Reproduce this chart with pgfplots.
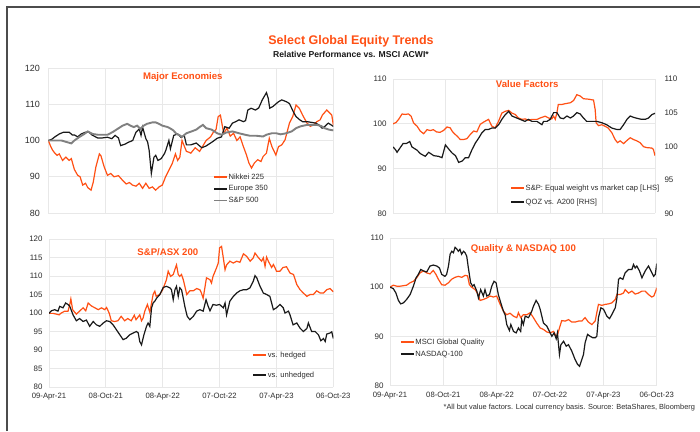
\documentclass[border=0pt]{standalone}
\usepackage{pgfplots}
\pgfplotsset{compat=1.18}
\usepackage{fontspec}
\setmainfont{Liberation Sans}
\definecolor{bsorange}{RGB}{255,80,20}
\definecolor{bsblack}{RGB}{25,25,25}
\definecolor{bsgray}{RGB}{128,128,128}
\definecolor{gridc}{RGB}{232,232,232}
\definecolor{tickc}{RGB}{45,45,45}
\pgfplotsset{
  panel/.style={scale only axis, anchor=south west,
    axis line style={draw=none}, xmin=0, xmax=130,
    xtick={0,26,52,78,104,130},
    grid=major, major grid style={gridc, line width=0.9pt},
    tick style={draw=none},
    ticklabel style={text=tickc},
    yticklabel style={font=\fontsize{9}{10}\selectfont, xshift=-3pt},
    xticklabel style={font=\fontsize{7.7}{9}\selectfont, yshift=-3pt},
    /pgf/number format/assume math mode=true,
    legend cell align=left,
    legend image code/.code={\draw[##1, line width=1.8pt] (0pt,0pt) -- (13pt,0pt);},
  },
  leg/.style={legend style={draw=none, fill=none, inner sep=0pt,
    font=\fontsize{7.6}{9}\selectfont, text=tickc,
    nodes={inner sep=0.6pt, text height=5.8pt, text depth=1.6pt}, row sep=#1}},
  lo/.style={color=bsorange, line width=1.2pt},
  lb/.style={color=bsblack, line width=1.2pt},
  lg/.style={color=bsgray, line width=1.9pt},
}
\begin{document}
\begin{tikzpicture}[x=1pt,y=1pt]
\useasboundingbox (0,0) rectangle (700,431);
\fill[white] (0,0) rectangle (700,431);
\draw[line width=1.8pt, color=black!70] (7.3,0) -- (7.3,424.3) -- (700,424.3);

\node[font=\fontsize{12.5}{14}\bfseries, text=bsorange] at (351,389.3) {Select Global Equity Trends};
\node[font=\fontsize{8.6}{10}\bfseries, text=bsblack] at (351,376.8) {Relative Performance vs. MSCI ACWI*};
\node[font=\fontsize{7.4}{9}\selectfont, text=tickc, anchor=east] at (698.5,23) {*All but value factors.  Local currency  basis.  Source:  BetaShares, Bloomberg};

% ---------- Panel 1 ----------
\begin{axis}[panel, at={(48.3pt,218pt)}, width=285pt, height=145pt,
  ymin=80, ymax=120, ytick={80,90,100,110,120}, xticklabels={},
  yticklabel style={xshift=-2pt},
  leg=3.1pt, legend style={at={(0.578,0.279)}, anchor=north west}]
\addplot[lo] coordinates {(0,100)(1,98.5)(2,97.3)(3,96.5)(4,95.9)(5,96.3)(6.5,94.5)(8,95.4)(9.5,94.5)(10.5,95)(11.9,92)(13.4,90.4)(14.5,90)(15.7,87.7)(17,88.2)(18,87)(19.5,86.3)(20.5,88.5)(21.7,92.7)(23.3,96.3)(24,95.8)(25.5,92.7)(27,90.4)(28.5,90.9)(30,90)(32,90.3)(33.9,89)(35.5,88)(37,88.4)(38.4,87.7)(40,87.4)(41.5,88.2)(43,86.8)(44.5,88.2)(46,86.8)(47.5,87.2)(49,86.3)(50.5,87.2)(52,87.7)(53.5,90)(55,91.8)(56.5,93.6)(58,96.3)(59,94.5)(60,95.4)(61,100)(62,98.5)(63,97)(64,96.8)(65,96.5)(67,98)(69,97)(70.5,98.5)(72,100)(74,101)(75.5,102.5)(76.5,103)(77.5,106.6)(78.5,107)(80,102)(81.5,103.4)(83,101.2)(84.5,102)(86,100)(87.5,101)(89,98.3)(90.4,96)(91.5,93.8)(92.7,92.4)(94,93.8)(95.5,94.7)(97,94.2)(98,95.6)(99.5,96.5)(100.8,100.6)(102,98.3)(103.8,96)(105,98.3)(106.5,98.8)(108,100.2)(109,102.5)(110,104.8)(111.5,106.6)(113,109.8)(114.5,108.9)(116,107)(118,104.8)(119.5,103.9)(121,104.3)(122.5,105.2)(124,105.7)(125,107)(127,108.4)(128.5,107.5)(129.3,107)(130,104.3)};
\addlegendentry{Nikkei 225}
\addplot[lb] coordinates {(0,100)(1.5,100.3)(3,101)(5,101.8)(7,102.3)(9.5,102.3)(11,101.5)(12,101.5)(13.4,101)(15,101.8)(17,102.3)(18.5,102.3)(20,101.5)(22.5,100.7)(24.5,100.7)(27,100.9)(29,100.5)(30.5,101.4)(32,100.7)(33,98.6)(35,99)(36.5,99.5)(38.5,100)(40,102.3)(41.5,103.2)(42.3,101.4)(43,103.7)(44.5,100.5)(45.3,99.6)(46,97.3)(47,90.9)(48.2,95.4)(49,95.9)(50,94.5)(51.5,95)(53,96.4)(53.6,97.3)(55,100)(55.7,97.7)(57.2,101.4)(59,101.8)(60.5,100.9)(62,101.4)(63,98.8)(65,98.8)(67.5,99.3)(70,98)(72,98.5)(75,99.7)(77,100.6)(79,101)(80.5,103.8)(82.5,103.4)(84,104.8)(85.5,105.2)(87,105.7)(89,105.2)(90,105.5)(91,108.4)(92.5,108.9)(94.5,108.4)(96,109)(97.6,111.2)(99.5,113.2)(100.3,111.7)(101,108.9)(102.5,109.4)(105,110.7)(106.5,111.2)(108.6,110.7)(110,110.2)(111.7,108)(113,106.6)(114.7,105.7)(116,105.2)(118,105.2)(120,105)(122,104.8)(123.4,104.3)(124.9,103.4)(126,103.8)(127.7,104.8)(129,104.3)(130,103.9)};
\addlegendentry{Europe 350}
\addplot[lg] coordinates {(0,100)(3,100)(6,100)(8.8,99.5)(10.5,99.2)(11.9,100)(14,100.9)(16.4,101.8)(18,102.5)(20.2,101.8)(22.5,101.6)(24.8,101.6)(27,101.6)(29.3,102.3)(31.6,103.2)(33.9,104.1)(36,104.6)(37.5,104.1)(39,103.7)(40.5,104.1)(42,103.2)(43.5,104.1)(45,104.6)(47.5,105)(49,105)(50.5,104.6)(52,104.1)(54.5,103.7)(56,103.2)(57,102.8)(58.5,101.8)(60,101.4)(61,101)(63,102)(65.3,102.5)(67.5,103)(69,103.7)(70.5,104.3)(72,103.4)(74.5,103)(77,102)(79,101.6)(81.2,102.2)(84,102.5)(87,102)(89.7,101.6)(92,101.3)(95,101.3)(98,101.1)(99.5,101.6)(102,102)(104,102)(106,101.7)(108.5,102)(111,102.5)(113,103.4)(115,103.9)(118,104.3)(120,104.3)(122.5,104.3)(124.5,104)(126,103.4)(128,103)(130,102.8)};
\addlegendentry{S\&P 500}
\node[font=\fontsize{9.6}{11}\bfseries, text=bsorange] at (axis description cs:0.472,0.935) {Major  Economies};
\end{axis}

% ---------- Panel 2 ----------
\begin{axis}[panel, at={(393pt,217.5pt)}, width=262pt, height=134.5pt,
  ymin=80, ymax=110, ytick={80,90,100,110}, xticklabels={},
  yticklabel style={font=\fontsize{8}{10}\selectfont}]
\addplot[lo] coordinates {(0,100)(1.5,100.3)(2.8,101)(4.5,102.2)(6,102.1)(7.7,102.2)(9,101.7)(10.2,100.2)(11.9,99.5)(13.5,98.4)(15.2,97.8)(16.9,98.7)(18.5,98.5)(20,98.7)(21.6,98.2)(23.3,98.1)(25,98.5)(26.8,99.3)(28.4,99.1)(29.3,98.4)(30,98)(31.7,97.3)(33.4,96.5)(35,96.5)(36.7,96.7)(38.3,97.6)(40,98.4)(41.6,98.2)(43.3,99.9)(45,100.4)(47.4,101)(49,99.5)(50.7,99.1)(52.4,100.6)(54,102.4)(55.7,102.8)(57.4,103)(59,102.4)(60.6,102.1)(62.3,101.3)(64,101)(65.6,101.1)(67.2,100.8)(69,101)(71.5,101)(73,101.3)(75.5,101.7)(77.2,101.3)(78.8,101.1)(79.7,101.7)(80.5,101)(81.3,102.4)(82,104.3)(83.7,104.3)(85.5,104.5)(88,104.7)(89.6,105.2)(91.2,106.5)(92.9,106.2)(94.5,105.6)(97,105.5)(99.5,105.3)(100.3,103.2)(100.8,100.2)(102,99.6)(103.6,99.8)(105,99.5)(106.7,99.1)(108.6,98)(110.2,96.5)(111.4,95.8)(112.7,96.2)(114.4,95.6)(116.1,96.3)(117.7,96.9)(119.3,96.5)(121,96.2)(122.6,95.8)(124.3,94.9)(125.9,94.7)(128.4,94.6)(129.2,94.3)(130,92.9)};
\node[font=\fontsize{9.6}{11}\bfseries, text=bsorange] at (axis description cs:0.512,0.965) {Value Factors};
\end{axis}
\begin{axis}[panel, at={(393pt,217.5pt)}, width=262pt, height=134.5pt,
  ymin=90, ymax=110, ytick={90,95,100,105,110}, xticklabels={}, grid=none,
  yticklabel pos=right, yticklabel style={font=\fontsize{8}{10}\selectfont, anchor=west, xshift=9pt},
  leg=5.4pt, legend style={at={(0.447,0.222)}, anchor=north west}]
\addlegendimage{lo}
\addlegendentry{S\&P: Equal weight vs market cap [LHS]}
\addplot[lb] coordinates {(0,99.9)(1.2,99.5)(2,99.1)(3.6,99.8)(5,100.4)(6.6,100.4)(8.3,100.7)(9.4,99.9)(12,99.4)(13.6,98.9)(16,98.5)(17.7,99.1)(20.2,98.6)(22.6,98.5)(24.3,98.3)(26,100.2)(27.6,99.6)(29.3,99)(31,98.6)(32.6,97.6)(34.3,97.8)(35.9,98.3)(37.5,98.3)(39.2,99.5)(40.9,100.5)(42.5,101.2)(44.1,102)(45.8,102.5)(47.4,102.5)(49,102.7)(50.7,102.7)(52.4,103.2)(54,104)(55.7,104.7)(57.4,105.2)(59,104.5)(60.6,104.3)(63,104)(65.5,103.7)(67.2,104)(68.9,103.7)(71.4,103.7)(73.9,103.2)(74.7,103.7)(76.4,103.7)(78,104)(79.7,105)(81.3,105)(83,104.2)(84.6,104.1)(86.3,104.5)(88,104.2)(89.6,104.5)(91.2,105)(92.9,104.8)(94.5,104.2)(96.1,103.7)(98.6,103.7)(101.1,103.7)(103.6,103.5)(106,103.2)(108.6,102.7)(111,102.5)(112.7,102.5)(114.4,103.2)(116.1,104)(117.7,104.5)(119.3,104.3)(121.8,104.1)(123.4,104)(125.1,104)(126.8,104.2)(128.4,104.7)(130,104.9)};
\addlegendentry{QOZ vs. A200 [RHS]}
\end{axis}

% ---------- Panel 3 ----------
\begin{axis}[panel, at={(49pt,44pt)}, width=284.3pt, height=148pt,
  ymin=80, ymax=120, ytick={80,85,...,120},
  xticklabels={09-Apr-21,08-Oct-21,08-Apr-22,07-Oct-22,07-Apr-23,06-Oct-23},
  yticklabel style={font=\fontsize{7.9}{9}\selectfont},
  leg=11.4pt, legend style={at={(0.715,0.245)}, anchor=north west}]
\addplot[lo] coordinates {(0,99.9)(1.8,99.9)(3.4,99.7)(4.6,99.5)(5.6,100)(7.2,100.5)(8.7,100.5)(9.5,102.3)(10,103.8)(10.8,100.9)(12.5,99.7)(14,100.5)(15.6,101.4)(16.8,100.6)(17.9,102.7)(19.4,101.9)(21,101.4)(22.5,100.9)(24,101.4)(25.5,100.9)(26.3,101.5)(27.5,100)(28.5,97.9)(30,97.7)(31.5,97.9)(33,99.1)(34.6,97.9)(36,98.5)(37.6,97.9)(39,99.4)(39.8,98.2)(41.5,99.5)(42.3,97.9)(43,98.6)(43.8,100.5)(45,102.3)(46.1,100.2)(47.6,105)(48.4,105.9)(49,104.5)(50.6,105)(52,106.3)(53.7,109)(54.5,111.3)(55.6,109.9)(56.8,110.4)(58.3,113)(59.1,110.4)(59.8,109.9)(60.6,110.4)(61.4,109)(63,105)(64.4,106)(66,106)(67.5,106.6)(69,106.3)(69.7,105.4)(70.5,104)(72,109.5)(73.6,109)(74.3,108.1)(75,109.9)(76.6,112.2)(77.4,113.5)(78,117.6)(78.9,118)(79.7,114.9)(80.5,111.7)(81.2,113)(82.7,114)(84.3,113.5)(85.8,114)(87.3,113.7)(88.9,116)(90.4,115.3)(92,114)(93.4,114.9)(94.2,116.2)(95.7,115)(97.2,114)(98,114.9)(98.8,112.6)(99.5,115.1)(100.3,114)(101.8,112.3)(102.6,113.1)(103.3,112.3)(104,111.3)(105.6,111.3)(107,112.3)(108.6,112.5)(110.2,110.8)(111.8,110.4)(113.3,107.7)(114.8,106.3)(116.3,105.4)(117.9,104.5)(119.4,105)(120.9,105)(122.4,106)(124,105.4)(125.5,105.4)(127,106.3)(128.5,106.6)(130,105.7)};
\addlegendentry{vs. hedged}
\addplot[lb] coordinates {(0,99.9)(1.1,100.6)(2.6,100.9)(4.1,100.5)(4.9,101.8)(6.4,101.4)(7.6,102.7)(8.7,102.3)(9.5,101.8)(11,99.5)(12.5,97.9)(14,98.5)(15.6,97.7)(17.1,98.1)(18.6,96.4)(20.2,97.7)(21.7,96.8)(23.2,96.4)(24.8,97.3)(26.3,97.9)(27.8,97.7)(29.3,96.8)(30.8,95.5)(32.4,94.1)(33.9,92.8)(35.4,93.2)(36.9,94.1)(38.5,94.6)(40,95)(40.8,94.6)(41.5,92.3)(42.3,91.4)(43.4,94.1)(44.6,96.4)(45.3,97.3)(46.1,96.4)(46.9,101.4)(47.6,102.7)(48.4,103.2)(49.2,104)(50.7,105)(52.2,106.9)(53.7,107.2)(55.3,106.8)(56,106.3)(56.8,103.6)(57.6,106.3)(58.3,107.2)(59.1,104.5)(59.8,106.8)(60.6,106.3)(61.4,104)(62.1,101.8)(63.2,99.1)(64.4,98.2)(66,99.1)(67.5,100.5)(69,100.9)(70.5,100.5)(71.8,103.6)(72.8,101.8)(73.6,100.6)(75,102.3)(76.5,102.1)(78,102.3)(79.7,101.4)(80.5,102.7)(81.2,99.5)(82.7,103.2)(84.3,104.5)(85.8,105.4)(87.3,106)(88.9,106.3)(90.4,106.3)(91.9,106.8)(93.4,108.6)(94.2,110.1)(95,109.5)(96.5,107.2)(98,105.4)(99.5,105)(101,104.5)(102.6,100.9)(104,101.4)(105.6,102.3)(107.1,101.4)(107.9,100)(109.5,100.5)(110.2,99.5)(111.6,96.8)(113.3,97.3)(114.8,95.9)(116.3,95)(117.9,95.8)(118.6,97.3)(120.1,95)(121.7,95)(123.2,94.1)(124.3,92.5)(125.5,93.1)(126.3,92.3)(127,94.3)(128.5,94.6)(129.3,94.9)(130,93.1)};
\addlegendentry{vs. unhedged}
\node[font=\fontsize{9.6}{11}\bfseries, text=bsorange] at (axis description cs:0.418,0.912) {S\&P/ASX 200};
\end{axis}

% ---------- Panel 4 ----------
\begin{axis}[panel, at={(390pt,45.5pt)}, width=266.7pt, height=147.5pt,
  ymin=80, ymax=110, ytick={80,90,100,110},
  xticklabels={09-Apr-21,08-Oct-21,08-Apr-22,07-Oct-22,07-Apr-23,06-Oct-23},
  yticklabel style={font=\fontsize{8}{9}\selectfont},
  leg=3.4pt, legend style={at={(0.037,0.325)}, anchor=north west}]
\addplot[lo] coordinates {(0,100)(1.6,100.4)(3.3,100.2)(4.9,100.2)(6.5,100.3)(8.1,100.4)(9.8,100.9)(11.4,101.2)(13,101.9)(14.6,102.9)(16.3,103.3)(17.9,102.9)(19.5,102.7)(21.1,103.4)(22.4,102.6)(23.6,101.6)(25.2,100.5)(26.8,100.4)(28.5,100.9)(30,101.6)(31.7,102)(33.3,102.2)(35,102)(36.6,102.4)(37.8,102.3)(38.7,100.5)(39.8,100)(41.5,99.5)(43,98.5)(43.9,97.3)(45.5,97.5)(47.2,97.8)(48.8,98.2)(50.4,98)(52,98.2)(53.7,96.5)(55.3,95.1)(56.9,94.4)(58.5,94.7)(60.2,94.1)(61.8,93.8)(62.6,94.8)(63.7,93.8)(65,94.4)(66.7,94.4)(68.3,94.8)(69.9,93.8)(71.5,92.7)(73.2,91.7)(74.8,91.4)(76.4,90.9)(78,90.7)(79.7,91)(81.3,89.8)(82.6,91.7)(83.7,93.2)(85.4,93.1)(87,93.4)(88.6,92.9)(90.2,92.9)(91.9,93.1)(93.5,93.1)(95.1,93.8)(96.7,92.9)(98.4,92.4)(100,93.1)(101.6,96.5)(103.3,96.3)(104.9,96.5)(106.5,96.6)(108.1,96.8)(109.8,97.5)(110.6,98.5)(112.2,98.5)(113.8,98.8)(114.6,99.5)(116.3,98.8)(117.9,99.2)(119.5,98.6)(121.1,98.8)(122.8,99.2)(124.4,99.2)(126,98.5)(127.6,98)(128.6,98.2)(129.6,99.3)(130,99.9)};
\addlegendentry{MSCI Global Quality}
\addplot[lb] coordinates {(0,100)(1.6,99.7)(2.9,98.8)(4.1,97.3)(5.2,96.6)(6.5,96.8)(8.1,97.5)(9.8,98.5)(11.4,100.2)(12.7,101.9)(13.8,102.6)(15,103.6)(16.3,103.3)(17.9,103.1)(19.5,104.3)(21.1,104.5)(22.8,104.3)(24.1,103.9)(25.2,102.6)(26.8,102.2)(27.6,102.6)(28.5,104.3)(29.3,106.7)(30.1,107.3)(30.9,107)(31.7,108.1)(32.5,107.8)(33.3,107.3)(34.1,107.7)(34.9,106.7)(35.8,107.3)(36.6,107)(37.4,106.3)(38.2,103.9)(39.3,100.9)(40.3,100.2)(41,100.5)(42.3,99.2)(43.1,97.8)(44.2,99.5)(45.5,98.2)(46.3,99.5)(47.2,98.2)(48.5,98.5)(49.6,100.2)(50.7,101.2)(51.7,100.9)(52.8,98.5)(54,96.8)(55.3,95.1)(56.1,94.4)(56.9,92.4)(58.2,91.2)(58.9,92.4)(60.2,91)(61.5,90.7)(62.6,91.7)(63.7,91)(64.2,93.4)(65,92.4)(65.9,94.1)(67.5,93.8)(69.1,95.1)(69.9,96.1)(71.2,97.3)(72.4,96.5)(73.2,95.5)(74.8,92.7)(76.4,92.1)(77.7,91)(78.9,90)(80,90.7)(81,89.5)(81.6,90.7)(82.6,86.3)(83.3,88.3)(84.6,89)(85.9,88)(87,88.3)(88.6,87)(90.2,85.3)(91.4,84.3)(92.4,83.9)(93.5,85.3)(94.3,86.3)(95.1,88.7)(96.3,90.4)(97.6,90)(98.9,89.7)(100,89.7)(100.8,90)(101.6,93.8)(102.8,95.8)(104.1,95.5)(105.7,94.1)(107,93.6)(108.1,94.4)(109.8,95.8)(110.6,97.8)(111.4,101.6)(112.2,101.9)(113.5,101.6)(114.6,102.9)(116.3,103.6)(117.9,103.6)(118.7,104.6)(119.5,103.9)(120.3,104.3)(121.6,103.3)(122.8,101.9)(124.4,103.3)(126,104.3)(127.2,103.3)(128.5,102.2)(129.3,102.6)(130,104.8)};
\addlegendentry{NASDAQ-100}
\node[font=\fontsize{9.6}{11}\bfseries, text=bsorange] at (axis description cs:0.5,0.925) {Quality \& NASDAQ 100};
\end{axis}
\end{tikzpicture}
\end{document}
